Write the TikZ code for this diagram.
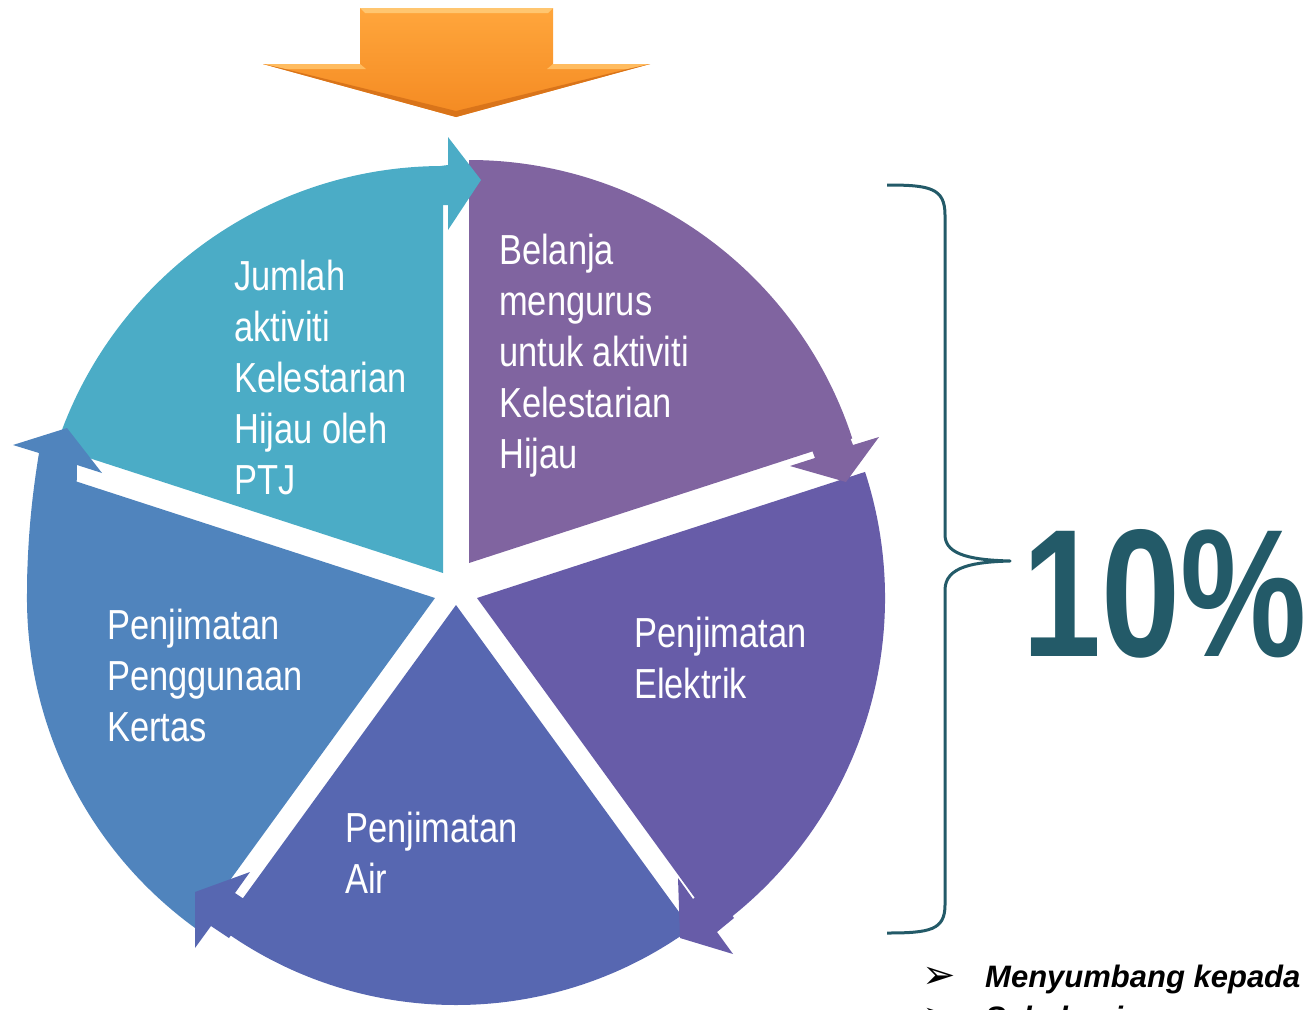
\documentclass[tikz,border=0pt]{standalone}
\usepackage{fontspec}
\setmainfont{Liberation Sans}
\newfontfamily\narrowfont[FakeStretch=0.82]{Liberation Sans}
\newfontfamily\pctfont[FakeStretch=0.78]{Liberation Sans}
\newfontfamily\symfont{DejaVu Sans}
\usetikzlibrary{calc}
\definecolor{cyanseg}{HTML}{4BACC6}
\definecolor{purpleseg}{HTML}{8064A0}
\definecolor{violetseg}{HTML}{675CA8}
\definecolor{bottomseg}{HTML}{5767B1}
\definecolor{leftseg}{HTML}{5084BD}
\definecolor{tealdark}{HTML}{235A68}
\definecolor{orangeT}{HTML}{FFA63C}
\definecolor{orangeB}{HTML}{F48A22}
\definecolor{orangeHi}{HTML}{FFC670}
\definecolor{orangeLo}{HTML}{D9741A}
\tikzset{
  segtext/.style={text=white, font=\narrowfont\fontsize{42}{51}\selectfont, anchor=base west, inner sep=0pt},
  bullettext/.style={text=black, font=\bfseries\itshape\fontsize{31}{36}\selectfont, anchor=base west, inner sep=0pt},
  bulletmark/.style={text=black, font=\symfont\fontsize{40}{40}\selectfont, anchor=base west, inner sep=0pt}
}
\begin{document}
\begin{tikzpicture}[x=1pt,y=1pt,yscale=-1]
\useasboundingbox (0,0) rectangle (1306,1009);

% ---- top orange arrow
\shade[top color=orangeT, bottom color=orangeB] (360,8) -- (553,8) -- (553,64) -- (650,64) -- (456,117) -- (263,64) -- (360,64) -- cycle;
\fill[orangeHi] (360,8) -- (553,8) -- (548,13) -- (365,13) -- cycle;
\fill[orangeHi!70!orangeT] (263,64) -- (360,64) -- (366,69) -- (285,69) -- cycle;
\fill[orangeHi!70!orangeT] (553,64) -- (650,64) -- (628,69) -- (547,69) -- cycle;
\fill[orangeLo] (263,64) -- (285,69) -- (456,111) -- (456,117) -- cycle;
\fill[orangeLo] (650,64) -- (628,69) -- (456,111) -- (456,117) -- cycle;

% ---- wedges
\fill[cyanseg]   (443,573) -- ++(-162:407) arc[start angle=-162, end angle=-90, radius=407] -- cycle;
\fill[purpleseg] (469,563) -- ++(-90:403) arc[start angle=-90, end angle=-18, radius=403] -- cycle;
\fill[violetseg] (477,598) -- ++(-18:408) arc[start angle=-18, end angle=54, radius=408] -- cycle;
\fill[bottomseg] (456,605) -- ++(54:400) arc[start angle=54, end angle=126, radius=400] -- cycle;
\fill[leftseg]   (435,598) -- ++(126:408) arc[start angle=126, end angle=198, radius=408] -- cycle;

% ---- arrow heads with shafts
\fill[cyanseg] (425,168) -- (448,165) -- (448,137) -- (481,180) -- (448,230) -- (448,205) -- (425,206) -- cycle;
\fill[purpleseg] (845,425) -- (853,445) -- (879,437) -- (846,482) -- (790,466) -- (815,458) -- (807,437) -- cycle;
\fill[violetseg] (734,918) -- (717,932) -- (733,954) -- (680,938) -- (678,878) -- (693,899) -- (710,885) -- cycle;
\fill[bottomseg] (229,938) -- (211,926) -- (195,948) -- (195,892) -- (250,872) -- (235,893) -- (253,905) -- cycle;
\fill[leftseg] (27,585) .. controls (28,530) and (33,490) .. (39,453) -- (13,445) -- (67,428) -- (102,473) -- (77,465) -- (75,585) -- cycle;

% ---- segment texts
\node[segtext] (c1) at (234,290) {Jumlah};
\node[segtext] (c2) at (234,341) {aktiviti};
\node[segtext] (c3) at (234,392) {Kelestarian};
\node[segtext] (c4) at (234,443) {Hijau oleh};
\node[segtext] (c5) at (234,494) {PTJ};

\node[segtext] (p1) at (499,264) {Belanja};
\node[segtext] (p2) at (499,315) {mengurus};
\node[segtext] (p3) at (499,366) {untuk aktiviti};
\node[segtext] (p4) at (499,417) {Kelestarian};
\node[segtext] (p5) at (499,468) {Hijau};

\node[segtext] (v1) at (634,647) {Penjimatan};
\node[segtext] (v2) at (634,698) {Elektrik};

\node[segtext] (b1) at (345,842) {Penjimatan};
\node[segtext] (b2) at (345,893) {Air};

\node[segtext] (l1) at (107,639) {Penjimatan};
\node[segtext] (l2) at (107,690) {Penggunaan};
\node[segtext] (l3) at (107,741) {Kertas};

% ---- brace and percentage
\draw[tealdark, line width=3pt, line join=round]
  (887,185) .. controls (930,185) and (945,188) .. (945,215) -- (945,535)
  .. controls (945,556) and (975,560) .. (1010,561)
  .. controls (975,562) and (945,566) .. (945,590) -- (945,905)
  .. controls (945,930) and (930,933) .. (887,933);
\node[anchor=base west, inner sep=0pt, text=tealdark, font=\pctfont\bfseries\fontsize{182}{182}\selectfont] (pct) at (1022,656) {10\%};

% ---- bullets
\node[bulletmark] (m1) at (922,988) {➢};
\node[bullettext] (t1) at (985,987) {Menyumbang kepada};
\node[bulletmark] (m2) at (922,1029) {➢};
\node[bullettext] (t2) at (985,1028) {Sebahagian};
\end{tikzpicture}
\end{document}
